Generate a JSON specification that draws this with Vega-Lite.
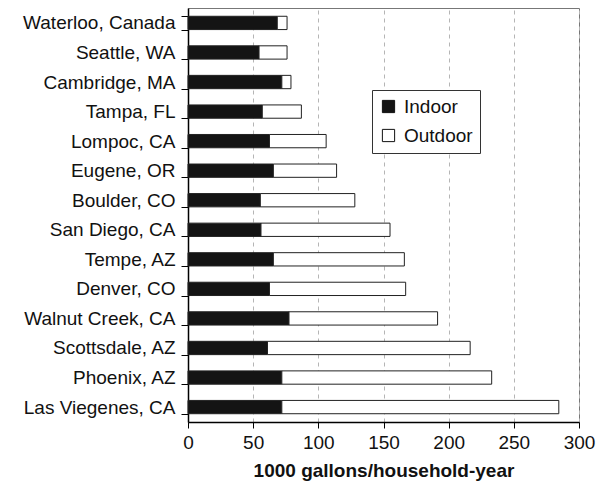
{
  "$schema": "https://vega.github.io/schema/vega-lite/v6.json",
  "autosize": {"type": "none"},
  "width": 391,
  "height": 414,
  "padding": {"left": 188, "top": 8, "right": 21, "bottom": 63},
  "config": {
    "font": "Liberation Sans",
    "view": {"stroke": "#777", "strokeWidth": 1}
  },
  "data": {
    "values": [
      {"city": "Waterloo, Canada", "type": "Indoor", "value": 68.5},
      {"city": "Waterloo, Canada", "type": "Outdoor", "value": 7.5},
      {"city": "Seattle, WA", "type": "Indoor", "value": 54.5},
      {"city": "Seattle, WA", "type": "Outdoor", "value": 21.5},
      {"city": "Cambridge, MA", "type": "Indoor", "value": 72},
      {"city": "Cambridge, MA", "type": "Outdoor", "value": 7},
      {"city": "Tampa, FL", "type": "Indoor", "value": 57},
      {"city": "Tampa, FL", "type": "Outdoor", "value": 30},
      {"city": "Lompoc, CA", "type": "Indoor", "value": 62.5},
      {"city": "Lompoc, CA", "type": "Outdoor", "value": 43.5},
      {"city": "Eugene, OR", "type": "Indoor", "value": 65.5},
      {"city": "Eugene, OR", "type": "Outdoor", "value": 48.5},
      {"city": "Boulder, CO", "type": "Indoor", "value": 55.5},
      {"city": "Boulder, CO", "type": "Outdoor", "value": 72.5},
      {"city": "San Diego, CA", "type": "Indoor", "value": 56},
      {"city": "San Diego, CA", "type": "Outdoor", "value": 99},
      {"city": "Tempe, AZ", "type": "Indoor", "value": 65.5},
      {"city": "Tempe, AZ", "type": "Outdoor", "value": 100.5},
      {"city": "Denver, CO", "type": "Indoor", "value": 62.5},
      {"city": "Denver, CO", "type": "Outdoor", "value": 104.5},
      {"city": "Walnut Creek, CA", "type": "Indoor", "value": 77.5},
      {"city": "Walnut Creek, CA", "type": "Outdoor", "value": 114},
      {"city": "Scottsdale, AZ", "type": "Indoor", "value": 61},
      {"city": "Scottsdale, AZ", "type": "Outdoor", "value": 155.5},
      {"city": "Phoenix, AZ", "type": "Indoor", "value": 72},
      {"city": "Phoenix, AZ", "type": "Outdoor", "value": 161},
      {"city": "Las Viegenes, CA", "type": "Indoor", "value": 72},
      {"city": "Las Viegenes, CA", "type": "Outdoor", "value": 212.5}
    ]
  },
  "mark": {"type": "bar", "stroke": "#222", "strokeWidth": 1},
  "encoding": {
    "y": {
      "field": "city",
      "type": "nominal",
      "sort": ["Waterloo, Canada", "Seattle, WA", "Cambridge, MA", "Tampa, FL", "Lompoc, CA", "Eugene, OR", "Boulder, CO", "San Diego, CA", "Tempe, AZ", "Denver, CO", "Walnut Creek, CA", "Scottsdale, AZ", "Phoenix, AZ", "Las Viegenes, CA"],
      "scale": {"paddingInner": 0.55, "paddingOuter": 0.28},
      "axis": {
        "title": null,
        "tickBand": "extent",
        "tickSize": 7,
        "tickColor": "#000",
        "domainColor": "#000",
        "domainWidth": 1.5,
        "labelFontSize": 19,
        "labelColor": "#111",
        "labelPadding": 6,
        "labelLimit": 200
      }
    },
    "x": {
      "field": "value",
      "type": "quantitative",
      "stack": "zero",
      "scale": {"domain": [0, 300], "nice": false},
      "axis": {
        "title": "1000 gallons/household-year",
        "titleFontSize": 19,
        "titleFontWeight": "bold",
        "titleColor": "#111",
        "titlePadding": 9,
        "values": [0, 50, 100, 150, 200, 250, 300],
        "tickSize": 6,
        "tickColor": "#000",
        "domainColor": "#000",
        "domainWidth": 1.5,
        "labelFontSize": 19,
        "labelColor": "#111",
        "labelPadding": 5,
        "labelFlush": false,
        "grid": true,
        "gridColor": "#b5b5b5",
        "gridDash": [4, 4],
        "gridWidth": 1
      }
    },
    "fill": {
      "field": "type",
      "type": "nominal",
      "scale": {"domain": ["Indoor", "Outdoor"], "range": ["#141414", "#ffffff"]},
      "legend": {
        "title": null,
        "orient": "none",
        "legendX": 184,
        "legendY": 82,
        "symbolType": "square",
        "symbolSize": 150,
        "symbolStrokeColor": "#111",
        "symbolStrokeWidth": 1,
        "labelFontSize": 19,
        "labelColor": "#111",
        "labelOffset": 6,
        "padding": 7,
        "rowPadding": 9,
        "strokeColor": "#333",
        "fillColor": "#fff"
      }
    },
    "order": {"field": "type", "sort": "ascending"}
  }
}
